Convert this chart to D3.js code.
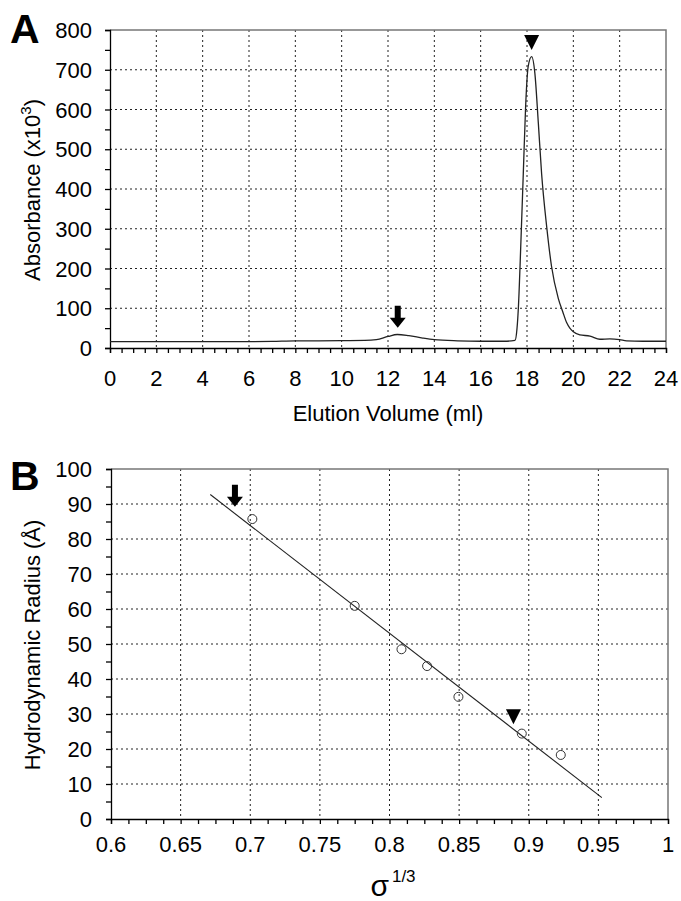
<!DOCTYPE html>
<meta charset="utf-8">
<head>
  <title>Elution profile and hydrodynamic radius</title>
</head>
<style>
body { margin: 0; background: #fff; font-family: "Liberation Sans", Arial, sans-serif; }
.grid line { stroke: #222; stroke-width: 1; stroke-dasharray: 2,3; }
.frame { fill: none; stroke: #777; stroke-width: 1.5; }
.axis path, .axis line { stroke: #000; stroke-width: 1.3; }
.axis text { font-family: "Liberation Sans", Arial, sans-serif; fill: #000; }
</style>
<body>
<svg id="chart" width="681" height="901"></svg>

<script src="https://cdnjs.cloudflare.com/ajax/libs/d3/7.8.5/d3.min.js"></script>
<script>
// panel A: elution profile
var volume = [0, 2, 4, 6, 7, 8, 9, 10, 11, 11.5, 12, 12.4, 12.9, 13.5, 14, 15, 16, 17, 17.48,
  17.57, 17.63, 17.74, 17.84, 17.94, 18.05, 18.2, 18.34, 18.49, 18.63, 18.85, 19.06, 19.35,
  19.55, 19.71, 19.85, 20.0, 20.28, 20.72, 21.15, 21.58, 22.0, 22.3, 23, 24];
var absorbance = [16, 16, 16, 16, 16.5, 18, 18, 18.5, 19, 21, 29, 34, 31, 25, 21, 18, 17, 17, 19,
  50, 104, 272, 439, 607, 708, 733, 691, 565, 439, 305, 205, 125,
  90, 64, 50, 41, 33, 30, 22, 23, 21, 18, 17, 17];
var aXTicks = [0, 2, 4, 6, 8, 10, 12, 14, 16, 18, 20, 22, 24];
var aYTicks = [0, 100, 200, 300, 400, 500, 600, 700, 800];
var aArrow = [12.42, 51];      // arrow over the small peak (tip)
var aTriangle = [18.2, 750];   // triangle over the main peak (tip)

// panel B: calibration
var sigma = [0.7015, 0.775, 0.8086, 0.827, 0.8495, 0.895, 0.923];
var radius = [85.7, 60.9, 48.5, 43.7, 34.9, 24.4, 18.3];
var fitSigma = [0.6713, 0.9525];
var fitRadius = [92.7, 6.1];
var bXTicks = [0.6, 0.65, 0.7, 0.75, 0.8, 0.85, 0.9, 0.95, 1];
var bYTicks = [0, 10, 20, 30, 40, 50, 60, 70, 80, 90, 100];
var bArrow = [0.689, 89.2];
var bTriangle = [0.889, 27.1];

var svg = d3.select("#chart");

function arrowPath(x, y) {
  // downward block arrow, tip at (x, y)
  return "M" + (x - 3) + "," + (y - 22) + "h6v12h5l-8,10l-8,-10h5z";
}
function trianglePath(x, y) {
  return "M" + (x - 7.5) + "," + (y - 15) + "h15l-7.5,15z";
}

function drawFrame(g, x, y, xTicks, yTicks, xMinor, yMinor) {
  var w = x.range()[1], h = y.range()[0];
  var grid = g.append("g").attr("class", "grid");
  grid.selectAll(".gx").data(xTicks.slice(1, -1)).enter().append("line")
    .attr("x1", d => x(d)).attr("x2", d => x(d)).attr("y1", 0).attr("y2", h);
  grid.selectAll(".gy").data(yTicks.slice(1, -1)).enter().append("line")
    .attr("x1", 0).attr("x2", w).attr("y1", d => y(d)).attr("y2", d => y(d));
  g.append("path").attr("class", "frame")
    .attr("d", "M0,0H" + w + "V" + h);

  g.append("g").attr("class", "axis")
    .call(d3.axisLeft(y).tickValues(yMinor).tickSize(5).tickFormat(""));
  g.append("g").attr("class", "axis").attr("transform", "translate(0," + h + ")")
    .call(d3.axisBottom(x).tickValues(xMinor).tickSize(5).tickFormat(""));
  g.selectAll(".axis .tick line").attr("stroke-width", 1.2);
}

// ---------- panel A ----------
var ax = d3.scaleLinear().domain([0, 24]).range([0, 556]);
var ay = d3.scaleLinear().domain([0, 800]).range([318, 0]);
var gA = svg.append("g").attr("transform", "translate(110,30)");
drawFrame(gA, ax, ay, aXTicks, aYTicks, d3.range(0, 24.01, 0.5), d3.range(0, 801, 50));

gA.selectAll(".ylab").data(aYTicks).enter().append("text")
  .attr("x", -18).attr("y", d => ay(d) + 8).attr("text-anchor", "end")
  .attr("font-size", 22).text(d => d);
gA.selectAll(".xlab").data(aXTicks).enter().append("text")
  .attr("x", d => ax(d)).attr("y", 318 + 38).attr("text-anchor", "middle")
  .attr("font-size", 22).text(d => d);

gA.append("path")
  .datum(volume.map((v, i) => [v, absorbance[i]]))
  .attr("fill", "none").attr("stroke", "#222").attr("stroke-width", 1.3)
  .attr("d", d3.line().x(d => ax(d[0])).y(d => ay(d[1])).curve(d3.curveMonotoneX));

gA.append("path").attr("d", arrowPath(ax(aArrow[0]), ay(aArrow[1]))).attr("fill", "#000");
gA.append("path").attr("d", trianglePath(ax(aTriangle[0]), ay(aTriangle[1]))).attr("fill", "#000");

svg.append("text").attr("x", 10).attr("y", 43).attr("font-size", 41)
  .attr("font-weight", "bold").text("A");
svg.append("text").attr("x", 388).attr("y", 421).attr("text-anchor", "middle")
  .attr("font-size", 22).text("Elution Volume (ml)");
var tA = svg.append("text").attr("transform", "translate(40,190) rotate(-90)")
  .attr("text-anchor", "middle").attr("font-size", 22);
tA.append("tspan").text("Absorbance (x10");
tA.append("tspan").attr("dy", -9).attr("font-size", 15).text("3");
tA.append("tspan").attr("dy", 9).text(")");

// ---------- panel B ----------
var bx = d3.scaleLinear().domain([0.6, 1]).range([0, 557]);
var by = d3.scaleLinear().domain([0, 100]).range([350, 0]);
var gB = svg.append("g").attr("transform", "translate(111,469)");
drawFrame(gB, bx, by, bXTicks, bYTicks, d3.range(0, 33).map(i => 0.6 + i * 0.0125), d3.range(0, 101, 5));

gB.selectAll(".ylab").data(bYTicks).enter().append("text")
  .attr("x", -19).attr("y", d => by(d) + 8).attr("text-anchor", "end")
  .attr("font-size", 22).text(d => d);
gB.selectAll(".xlab").data(bXTicks).enter().append("text")
  .attr("x", d => bx(d)).attr("y", 350 + 33).attr("text-anchor", "middle")
  .attr("font-size", 22).text(d => d);

gB.append("path")
  .datum(fitSigma.map((v, i) => [v, fitRadius[i]]))
  .attr("fill", "none").attr("stroke", "#222").attr("stroke-width", 1.1)
  .attr("d", d3.line().x(d => bx(d[0])).y(d => by(d[1])));

gB.selectAll("circle").data(sigma).enter().append("circle")
  .attr("cx", d => bx(d)).attr("cy", (d, i) => by(radius[i])).attr("r", 4.5)
  .attr("fill", "none").attr("stroke", "#333").attr("stroke-width", 1);

gB.append("path").attr("d", arrowPath(bx(bArrow[0]), by(bArrow[1]))).attr("fill", "#000");
gB.append("path").attr("d", trianglePath(bx(bTriangle[0]), by(bTriangle[1]))).attr("fill", "#000");

svg.append("text").attr("x", 10).attr("y", 490).attr("font-size", 41)
  .attr("font-weight", "bold").text("B");
svg.append("text").attr("transform", "translate(40,645) rotate(-90)")
  .attr("text-anchor", "middle").attr("font-size", 22).text("Hydrodynamic Radius (Å)");
var sx = svg.append("text").attr("x", 393).attr("y", 896).attr("text-anchor", "middle");
sx.append("tspan").attr("font-size", 30).text("σ");
sx.append("tspan").attr("font-size", 17).attr("dy", -14).attr("dx", 3).text("1/3");
</script>
</body>
</html>
